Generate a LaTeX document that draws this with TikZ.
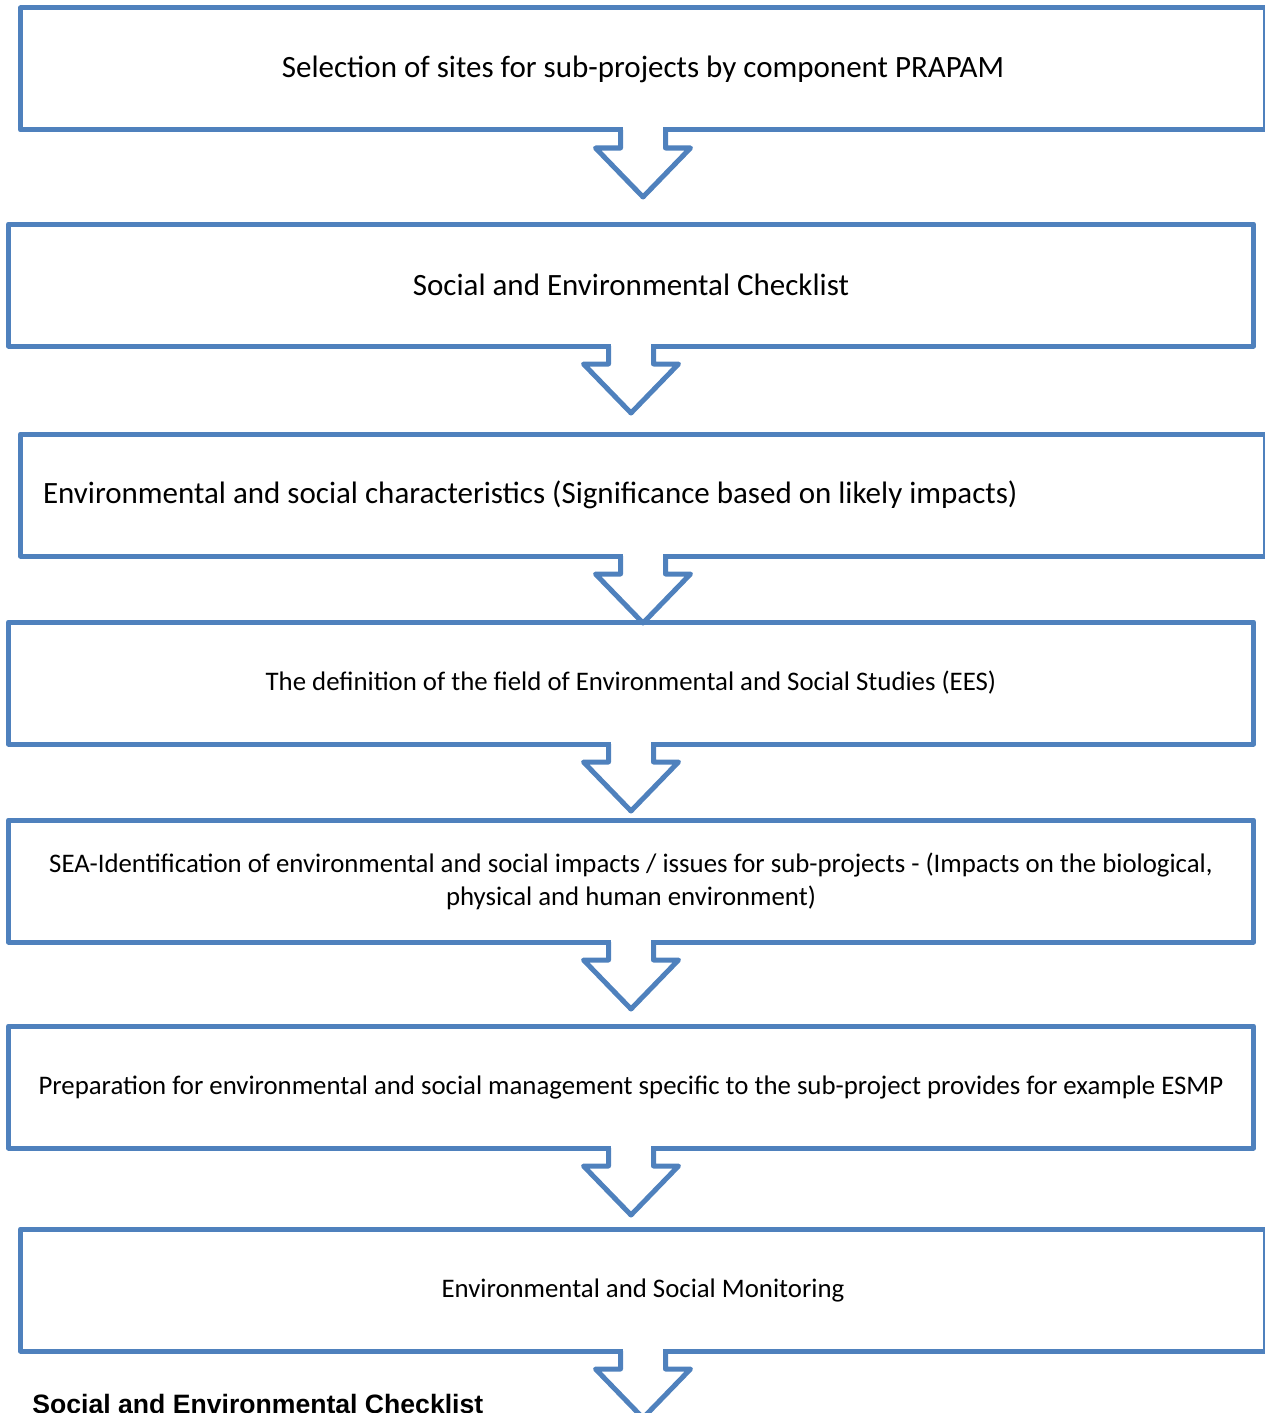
\documentclass[tikz,border=0pt]{standalone}
\usepackage{fontspec}
\setmainfont{Carlito}
\newfontfamily\headfont{Liberation Sans}
\usetikzlibrary{positioning}
\definecolor{flowblue}{RGB}{79,129,189}

% open block arrow hanging under a box
\newcommand{\flowarrow}[1]{%
  \begin{scope}[shift={(#1.south)}]
    \fill[white] (-20,-4) rectangle (20,4);
    \draw[blkarrow] (-22.5,0) -- (-22.5,18) -- (-47.5,18) -- (0,67) -- (47.5,18) -- (22.5,18) -- (22.5,0);
  \end{scope}}

\begin{document}
\begin{tikzpicture}[
  x=0.5pt, y=-0.5pt,
  node distance=40pt,
  stagebox/.style={rectangle, draw=flowblue, line width=2.5pt, line join=round, fill=white, outer sep=0pt, minimum width=622.5pt, minimum height=61pt, align=center, font=\fontsize{15.5}{19}\selectfont},
  smallbox/.style={stagebox, font=\fontsize{13.4}{16.5}\selectfont},
  blkarrow/.style={draw=flowblue, line width=2.5pt, line join=round}
]
\useasboundingbox (0,0) rectangle (1264,1413);

\node[stagebox] (sites) at (643,69) {Selection of sites for sub-projects by component PRAPAM};
\node[stagebox, below=47pt of sites, xshift=-6pt] (checklist) {Social and Environmental Checklist};
\node[stagebox, below=44pt of checklist, xshift=6pt, text width=600pt, inner xsep=11pt, align=flush left] (traits) {Environmental and social characteristics (Significance based on likely impacts)};
\node[smallbox, below=33pt of traits, xshift=-6pt] (scope) {The definition of the field of Environmental and Social Studies (EES)};
\node[smallbox, below=38pt of scope] (impacts) {SEA-Identification of environmental and social impacts / issues for sub-projects - (Impacts on the biological,\\physical and human environment)};
\node[smallbox, below=42pt of impacts] (esmp) {Preparation for environmental and social management specific to the sub-project provides for example ESMP};
\node[smallbox, below=40.5pt of esmp, xshift=6pt] (monitor) {Environmental and Social Monitoring};

\node[anchor=base west, inner sep=0pt, font=\headfont\bfseries\fontsize{13.3}{16}\selectfont] (checktitle) at (32,1413) {Social and Environmental Checklist};

\flowarrow{sites}
\flowarrow{checklist}
\flowarrow{traits}
\flowarrow{scope}
\flowarrow{impacts}
\flowarrow{esmp}
\flowarrow{monitor}
\end{tikzpicture}
\end{document}
